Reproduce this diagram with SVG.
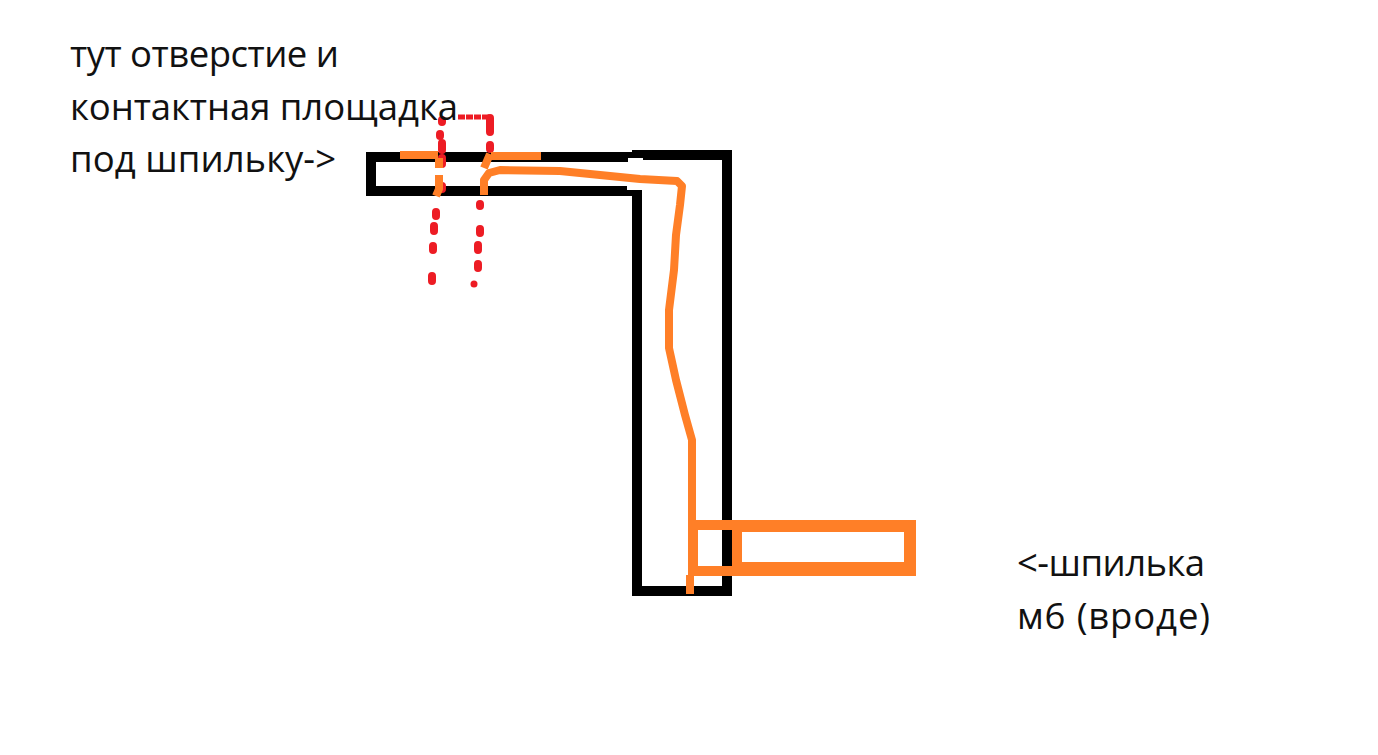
<svg xmlns="http://www.w3.org/2000/svg" width="1378" height="755" viewBox="0 0 1378 755">
<style>
.t{font-family:"Open Sans","Noto Sans",sans-serif;font-size:36.5px;fill:#111}
.o{fill:none;stroke:#ff7f27;stroke-width:8;stroke-linejoin:round;stroke-linecap:butt}
.r{fill:none;stroke:#ed1c24;stroke-width:8;stroke-linecap:round}
</style>
<rect width="1378" height="755" fill="#fff"/>
<g id="bracket">
<path fill="#000" fill-rule="evenodd" d="M366 152H632V150H732V596H632V196H366ZM376 162V186H642V586H722V160H642V162Z"/>
<rect x="628" y="158" width="15" height="4" fill="#fff"/>
<rect x="627" y="183" width="15" height="7" fill="#fff"/>
</g>
<g id="hole-lines">
<path d="M458 117H490" fill="none" stroke="#ed1c24" stroke-width="5" stroke-dasharray="7 1"/>
<path class="r" d="M490 118V132M490 145V149M442 120V122M440 134V136M442 143V150M442 158V164M442 186V189M436 212V216M434 226V231M433 246V250M432 276V281M480 204V206M480 229V233M478 245V250M478 264V268"/>
<circle cx="474" cy="284" r="3.5" fill="#ed1c24"/>
</g>
<g id="stud">
<path fill="#ff7f27" fill-rule="evenodd" d="M688 520H916V576H688ZM698 530V566H732V530ZM742 532V562H904V532Z"/>
<path class="o" d="M692 520V440L685 415L676 380L669 348L669 310L674 270L676 235L680 205L682 186L677 181L640 179L600 175L560 171L500 170L489 173L484 180V195"/>
<path class="o" d="M690 575V594"/>
<path class="o" d="M400 155H438M491 156H541M490 154L484 168M439 175V189L436 196M439 158V168"/>
</g>
<g id="labels">
<text class="t" x="70" y="67" textLength="269">тут отверстие и</text>
<text class="t" x="70" y="120" textLength="388">контактная площадка</text>
<text class="t" x="70" y="172" textLength="266">под шпильку-&gt;</text>
<text class="t" x="1017" y="576" textLength="188">&lt;-шпилька</text>
<text class="t" x="1017" y="629" textLength="193">м6 (вроде)</text>
</g>
</svg>
